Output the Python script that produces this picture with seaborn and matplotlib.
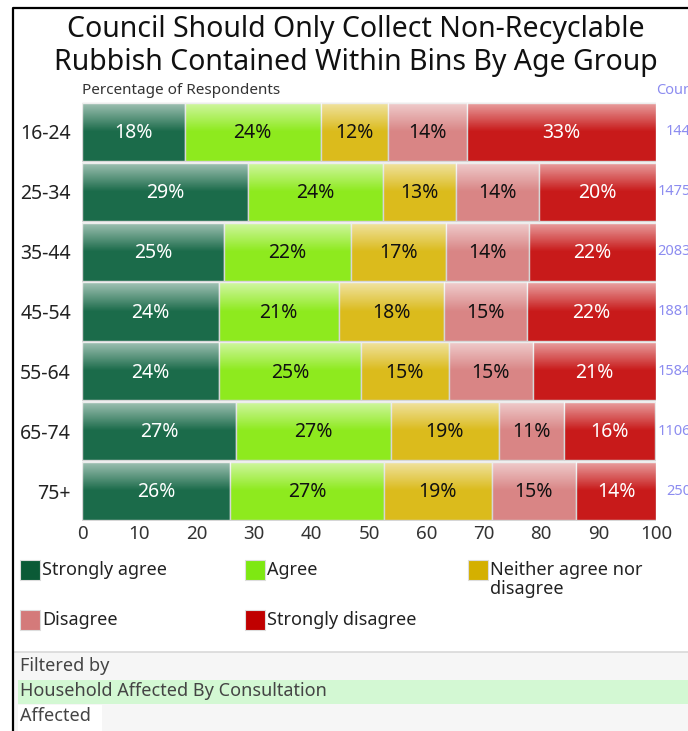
import matplotlib.pyplot as plt
import matplotlib.patches as mpatches
import matplotlib.lines as mlines
import seaborn as sns
import numpy as np
import pandas as pd

# Chart data
age_groups = ['16-24', '25-34', '35-44', '45-54', '55-64', '65-74', '75+']
responses = ['Strongly agree', 'Agree', 'Neither agree nor disagree', 'Disagree', 'Strongly disagree']
strongly_agree = [17.9, 28.9, 24.7, 23.8, 23.9, 26.8, 25.8]
agree = [23.7, 23.5, 22.1, 20.9, 24.7, 27.0, 26.8]
neither = [11.7, 12.8, 16.6, 18.3, 15.3, 18.8, 18.8]
disagree = [13.8, 14.4, 14.4, 14.6, 14.7, 11.4, 14.7]
strongly_disagree = [32.9, 20.4, 22.2, 22.4, 21.4, 15.9, 13.9]
counts = ['144', '1475', '2083', '1881', '1584', '1106', '250']
x_ticks = [0, 10, 20, 30, 40, 50, 60, 70, 80, 90, 100]

bar_colors = ['#1b6b4a', '#8eea1e', '#dbbb1c', '#d98585', '#c81a1a']
legend_colors = ['#0b5a36', '#7ee812', '#d4b000', '#d47a7a', '#c00000']
label_colors = ['white', '#111111', '#111111', '#111111', 'white']

df = pd.DataFrame({
    'age': age_groups,
    responses[0]: strongly_agree,
    responses[1]: agree,
    responses[2]: neither,
    responses[3]: disagree,
    responses[4]: strongly_disagree,
})

sns.set_style('white')
plt.rcParams['font.family'] = ['Noto Sans', 'DejaVu Sans']

W, H = 688, 731
fig = plt.figure(figsize=(W / 100, H / 100), dpi=100)


def fx(px):
    return px / W


def fy(py):
    return 1 - py / H


ax = fig.add_axes([fx(82), fy(521), fx(656) - fx(82), fy(102) - fy(521)])

# stacked bars: draw each response with seaborn, then shift patches to their left edge
left = np.zeros(len(age_groups))
segments = []
for resp, color in zip(responses, bar_colors):
    vals = df[resp].to_numpy()
    ends = left + vals
    n0 = len(ax.patches)
    sns.barplot(x=ends, y=df['age'], orient='h', color=color, width=0.97,
                edgecolor='#d6d6d6', linewidth=1, saturation=1, ax=ax)
    new = ax.patches[n0:]
    for p, l, v in zip(new, left, vals):
        p.set_x(l)
        p.set_width(v)
        segments.append((p, l, v, resp))
    left = ends

ax.set_xlim(0, 100)
ax.set_ylim(6.5, -0.5)

# glossy gradient on top of each bar
grad = np.zeros((100, 1, 4))
grad[..., :3] = 1.0
alpha = np.clip(0.6 * (1 - np.linspace(0, 1, 100) / 0.5), 0, 0.6)
grad[:, 0, 3] = alpha
for p, l, v, resp in segments:
    y0 = p.get_y()
    h = p.get_height()
    im = ax.imshow(grad, extent=(l, l + v, y0 + h, y0), origin='upper',
                   aspect='auto', zorder=p.get_zorder() + 0.1, interpolation='bilinear')
    im.set_clip_path(p)
ax.set_xlim(0, 100)
ax.set_ylim(6.5, -0.5)

# value labels
for p, l, v, resp in segments:
    i = responses.index(resp)
    ax.text(l + v / 2, p.get_y() + p.get_height() / 2 + 0.02, f'{round(v)}%',
            ha='center', va='center', fontsize=14, color=label_colors[i], zorder=5)

for s in ax.spines.values():
    s.set_visible(False)
ax.set_xticks(x_ticks)
ax.tick_params(axis='x', length=0, labelsize=13.5, labelcolor='#333333', pad=3)
ax.tick_params(axis='y', length=0, labelsize=14, labelcolor='#222222', pad=8)
ax.set_xlabel('')
ax.set_ylabel('')

# titles
fig.text(fx(356), fy(46), 'Council Should Only Collect Non-Recyclable\nRubbish Contained Within Bins By Age Group',
         ha='center', va='center', fontsize=20.5, color='#111111', linespacing=1.22)
fig.text(fx(82), fy(91), 'Percentage of Respondents', ha='left', va='center',
         fontsize=11, color='#333333')
fig.text(fx(656), fy(91), 'Count', ha='left', va='center', fontsize=10.5, color='#8c8cf0')
for i, c in enumerate(counts):
    yy = ax.transData.transform((0, i))[1] / (H)
    fig.text(fx(691), yy, c, ha='right', va='center', fontsize=10.5, color='#8c8cf0')

# legend
leg_pos = [(20, 570), (245, 570), (468, 570), (20, 620), (245, 620)]
leg_labels = ['Strongly agree', 'Agree', 'Neither agree nor\ndisagree', 'Disagree', 'Strongly disagree']
for (px, py), lab, col in zip(leg_pos, leg_labels, legend_colors):
    fig.add_artist(mpatches.Rectangle((fx(px), fy(py + 10)), fx(20), 20 / H,
                                      facecolor=col, edgecolor='#dddddd', lw=0.8,
                                      transform=fig.transFigure))
    fig.text(fx(px + 22), fy(py - 9), lab, ha='left', va='top', fontsize=13,
             color='#222222', linespacing=1.1)

# filter panel
fig.add_artist(mpatches.Rectangle((fx(13), 0), 1, fy(652), facecolor='#f6f6f6',
                                  edgecolor='none', transform=fig.transFigure))
fig.add_artist(mlines.Line2D([fx(13), 1], [fy(652), fy(652)], color='#d9d9d9', lw=1.2,
                             transform=fig.transFigure))
fig.add_artist(mpatches.Rectangle((fx(18), fy(704)), 1, 24 / H, facecolor='#d3f8d3',
                                  edgecolor='none', transform=fig.transFigure))
fig.add_artist(mpatches.Rectangle((fx(18), 0), fx(84), fy(705), facecolor='white',
                                  edgecolor='none', transform=fig.transFigure))
fig.text(fx(20), fy(666), 'Filtered by', ha='left', va='center', fontsize=13, color='#444444')
fig.text(fx(20), fy(691), 'Household Affected By Consultation', ha='left', va='center',
         fontsize=13, color='#444444')
fig.text(fx(20), fy(716), 'Affected', ha='left', va='center', fontsize=13, color='#444444')

# outer frame
fig.add_artist(mlines.Line2D([fx(12.5), fx(12.5), 1.01], [-0.01, fy(7.5), fy(7.5)],
                             color='black', lw=1.6, transform=fig.transFigure))

fig.savefig('out.png', dpi=100)
